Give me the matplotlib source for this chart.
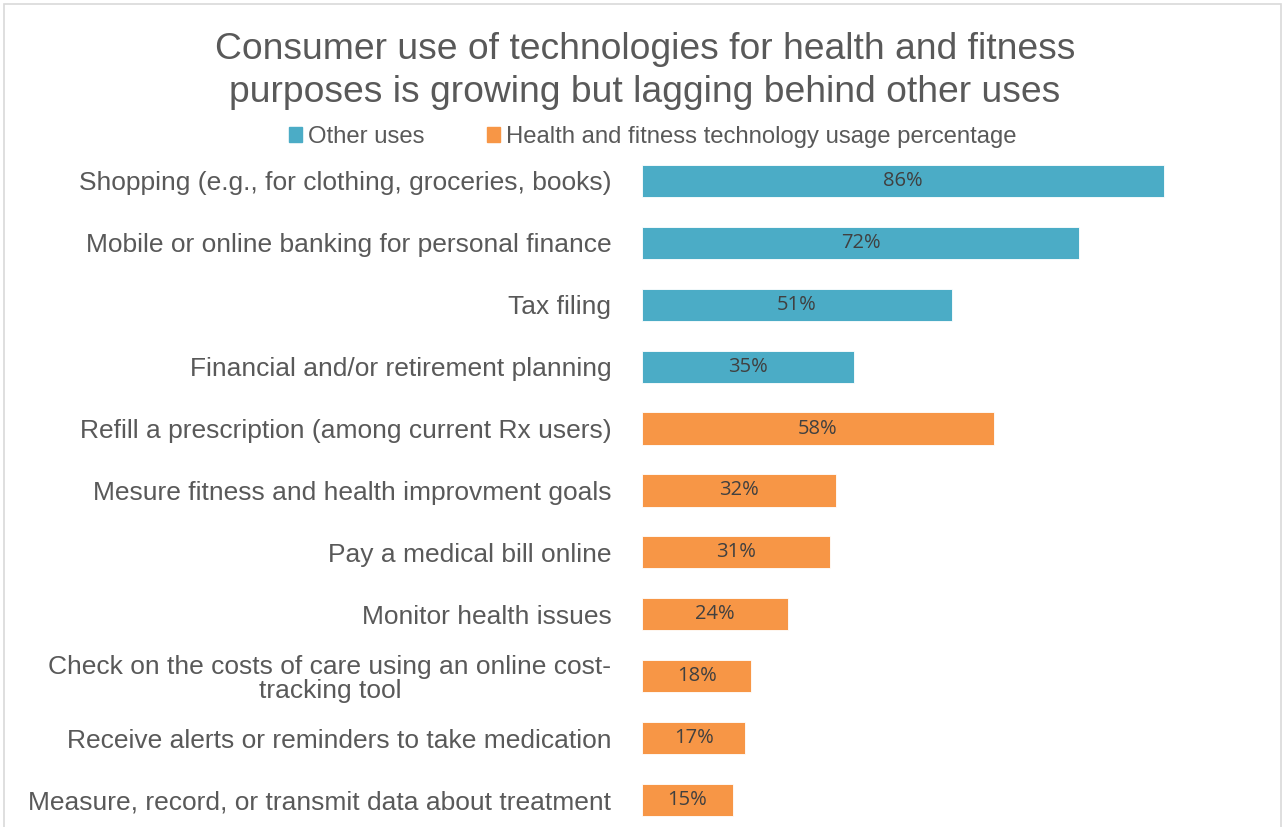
import matplotlib.pyplot as plt
from matplotlib.patches import Patch, Rectangle

# data
categories = [
    "Shopping (e.g., for clothing, groceries, books)",
    "Mobile or online banking for personal finance",
    "Tax filing",
    "Financial and/or retirement planning",
    "Refill a prescription (among current Rx users)",
    "Mesure fitness and health improvment goals",
    "Pay a medical bill online",
    "Monitor health issues",
    "Check on the costs of care using an online cost-\ntracking tool",
    "Receive alerts or reminders to take medication",
    "Measure, record, or transmit data about treatment",
]
values = [86, 72, 51, 35, 58, 32, 31, 24, 18, 17, 15]
groups = ["other"] * 4 + ["health"] * 7
legend_labels = ["Other uses", "Health and fitness technology usage percentage"]

TEAL = "#4BACC6"
ORANGE = "#F79646"
TEXT = "#595959"
colors = [TEAL if g == "other" else ORANGE for g in groups]

plt.rcParams['font.family'] = ['Liberation Sans', 'DejaVu Sans']

fig = plt.figure(figsize=(12.83, 8.27), dpi=100)
ax = fig.add_axes([642 / 1283, 0, 620 / 1283, 1 - 150 / 827])

y = list(range(len(categories)))
bars = ax.barh(y, values, height=0.52, color=colors, edgecolor="white", linewidth=0.6)
ax.set_xlim(0, 620 / 6.07)
ax.set_ylim(10.436, -0.5)

for b, v in zip(bars, values):
    ax.text(b.get_width() / 2, b.get_y() + b.get_height() / 2, f"{v}%",
            ha="center", va="center", fontsize=14.5, color="#404040",
            family=["Open Sans", "DejaVu Sans"])

ax.set_yticks(y)
ax.set_yticklabels(categories, fontsize=19, color=TEXT)
ax.tick_params(axis="y", length=0, pad=22)
for lbl in ax.get_yticklabels():
    if "\n" in lbl.get_text():
        lbl.set_multialignment("center")
        lbl.set_linespacing(1.0)
ax.set_xticks([])
for s in ax.spines.values():
    s.set_visible(False)

# title
fig.text(645 / 1283, 1 - 71 / 827,
         "Consumer use of technologies for health and fitness\npurposes is growing but lagging behind other uses",
         ha="center", va="center", fontsize=26.8, color=TEXT, linespacing=1.3)

# legend
handles = [Patch(color=TEAL), Patch(color=ORANGE)]
fig.legend(handles, legend_labels, loc="center", bbox_to_anchor=(653 / 1283, 1 - 137 / 827),
           ncol=2, frameon=False, fontsize=17.2, labelcolor=TEXT,
           handlelength=0.55, handleheight=0.55, handletextpad=0.25, columnspacing=2.6)

# outer border
fig.patches.append(Rectangle((4 / 1283, -0.01), 1277 / 1283, 1 - 4 / 827 + 0.01,
                             transform=fig.transFigure, fill=False,
                             edgecolor="#D9D9D9", linewidth=1.2))

fig.savefig("out.png", dpi=100)
